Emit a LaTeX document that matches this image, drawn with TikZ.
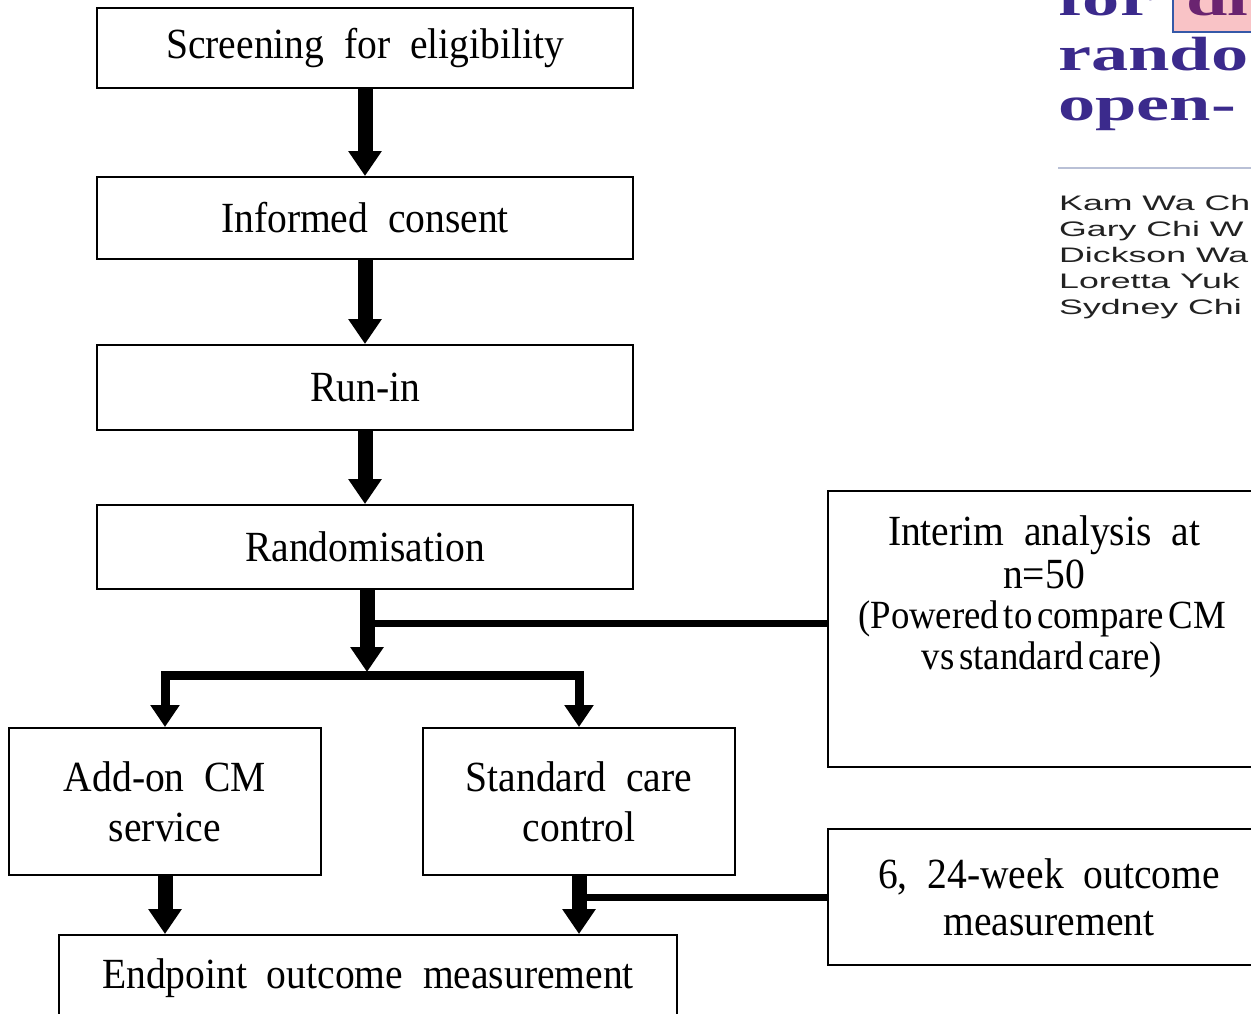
\documentclass[tikz,border=0pt]{standalone}
\usepackage{fontspec}
\setmainfont[WordSpace=2, FakeStretch=0.92]{Liberation Serif}
\newfontfamily\condserif[WordSpace=0.5, FakeStretch=0.92]{Liberation Serif}
\newfontfamily\headserif{Liberation Serif}
\newfontfamily\headsans{Liberation Sans}
\usetikzlibrary{arrows.meta}
\definecolor{headpurple}{HTML}{3B2A8C}
\definecolor{headplum}{HTML}{6A2470}
\definecolor{hlpink}{HTML}{F9C3C6}
\definecolor{hlblue}{HTML}{3559A8}
\definecolor{rulegrey}{HTML}{B9C0D6}
\definecolor{authgrey}{HTML}{222222}

\begin{document}
\begin{tikzpicture}[x=1pt,y=-1pt,
  box/.style={draw=black, line width=2pt, inner sep=0pt, align=center,
    font=\fontsize{43}{50}\selectfont},
  flow/.style={line width=15pt, -{Triangle[width=32pt,length=25pt]}},
  fork/.style={line width=9pt,
    {Triangle[width=28pt,length=22pt]}-{Triangle[width=28pt,length=22pt]}},
  tap/.style={line width=7pt},
  linetext/.style={inner sep=0pt, anchor=base},
  head/.style={inner sep=0pt, anchor=base west, text=headpurple,
    font=\headserif\bfseries\fontsize{48}{52}\selectfont},
  author/.style={inner sep=0pt, anchor=base west, text=authgrey,
    font=\headsans\fontsize{21}{26}\selectfont},
]
\useasboundingbox (0,0) rectangle (1251,1013);
\clip (0,0) rectangle (1251,1013);
\fill[white] (0,0) rectangle (1251,1013);

% main column
\node[box, minimum width=536, minimum height=80] (screen) at (365,48) {Screening for eligibility};
\node[box, minimum width=536, minimum height=82] (consent) at (365,218) {Informed consent};
\node[box, minimum width=536, minimum height=85] (runin) at (365,387.5) {Run-in};
\node[box, minimum width=536, minimum height=84] (rand) at (365,547) {Randomisation};

% arms
\node[box, minimum width=312, minimum height=147] (addon) at (165,801.5) {Add-on CM\\service};
\node[box, minimum width=312, minimum height=147] (std) at (579,801.5) {Standard care\\control};
\node[box, minimum width=618, minimum height=86] (endp) at (368,978) {Endpoint outcome measurement};

% side boxes
\node[box, minimum width=442, minimum height=276] (interim) at (1049,629) {};
\node[linetext, font=\fontsize{43}{41}\selectfont] (interimA) at (1044,545) {Interim analysis at};
\node[linetext, font=\fontsize{43}{41}\selectfont] (interimB) at (1044,588) {n=50};
\node[linetext, font=\condserif\fontsize{40}{41}\selectfont] (interimC) at (1042,628) {(Powered to compare CM};
\node[linetext, font=\condserif\fontsize{40}{41}\selectfont] (interimD) at (1042,669) {vs standard care)};
\node[box, minimum width=442, minimum height=136, font=\fontsize{43}{47}\selectfont] (week) at (1049,897) {6, 24-week outcome\\measurement};

% connectors
\draw[flow] (screen.south) -- (consent.north);
\draw[flow] (consent.south) -- (runin.north);
\draw[flow] (runin.south) -- (rand.north);
\coordinate (split) at (367,675);
\coordinate (tapI) at (367,623);
\draw[tap] (tapI) -- (tapI -| interim.west);
\draw[flow, shorten >=3pt] (rand.south -| split) -- (split);
\draw[fork] (addon.north) |- (split) -| (std.north);
\draw[flow] (addon.south) -- (addon.south |- endp.north);
\draw[flow] (std.south) -- (std.south |- endp.north);
\draw[tap] (week.west) -- (week.west -| std.south);

% article header in the corner
\draw[fill=hlpink, draw=hlblue, line width=1.5pt] (1173,-5) rectangle (1262,32);
\node[head] (hfor) at (1058,15) {\scalebox{1.55}[1]{for}};
\node[head, text=headplum] (hdi) at (1186,15) {\scalebox{1.55}[1]{di}};
\node[head] (hrand) at (1058,70) {\scalebox{1.55}[1]{rando}};
\node[head] (hopen) at (1058,120) {\scalebox{1.55}[1]{open-}};
\draw[rulegrey, line width=2pt] (1058,168) -- (1262,168);
\node[author] (au1) at (1059,210) {\scalebox{1.7}[1]{Kam Wa Ch}};
\node[author] (au2) at (1059,236) {\scalebox{1.7}[1]{Gary Chi W}};
\node[author] (au3) at (1059,262) {\scalebox{1.7}[1]{Dickson Wa}};
\node[author] (au4) at (1059,288) {\scalebox{1.7}[1]{Loretta Yuk}};
\node[author] (au5) at (1059,314) {\scalebox{1.7}[1]{Sydney Chi}};
\end{tikzpicture}
\end{document}
